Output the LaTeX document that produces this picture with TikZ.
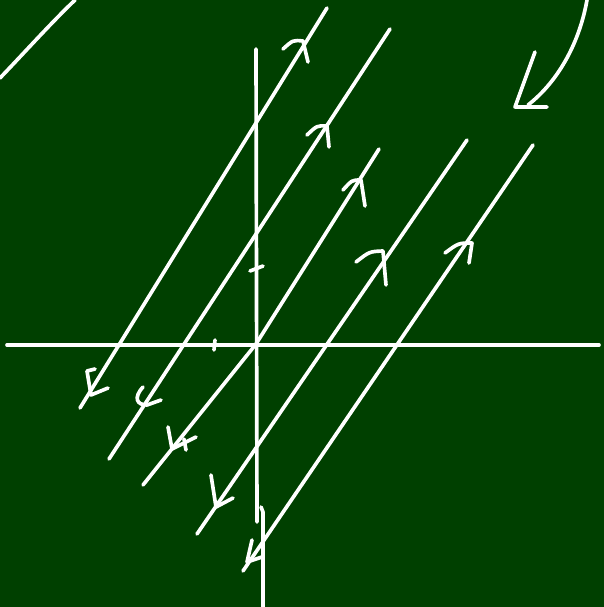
\documentclass[tikz,border=0pt]{standalone}
\usepackage{xcolor}
\usepackage{tikz}
\usetikzlibrary{calc}
\definecolor{bdgreen}{RGB}{0,64,0}
\definecolor{bdchalk}{RGB}{255,255,255}

\begin{document}
\begin{tikzpicture}[x=0.025cm, y=-0.025cm,
  chalk/.style={bdchalk, line width=2.6pt, line cap=round, line join=round}]

% ================= board =================
% one unit is one pixel of the 604x607 board, y runs downwards
\fill[bdgreen] (0,0) rectangle (604,607);
\useasboundingbox (0,0) rectangle (604,607);

% ================= axes =================
\draw[chalk] (7,345) -- (599,345);
\draw[chalk] (256,49) -- (257,522);
\draw[chalk] (261,507) -- (263,512) -- (263,607);
% small ticks near the origin
\draw[chalk] (250,271) -- (263,266);
\draw[chalk] (215,340) -- (214,350);

% ================= field lines =================
% drawn bottom-left to top-right; the third one was drawn in two strokes
\foreach \bx/\by/\tx/\ty in {80/408/327/8, 109/459/390/29,
                             197/534/467/140, 243/571/533/145}
  \draw[chalk] (\bx,\by) -- (\tx,\ty);
\draw[chalk] (143,485) -- (256,344) -- (379,149);

% arrow marks pointing up the lines
\foreach \lx/\ly/\ax/\ay/\rx/\ry in {283/49/303/41/308/62,
                                     307/135/327/126/329/147,
                                     343/190/361/180/365/206,
                                     356/262/383/251/386/285,
                                     445/253/472/243/469/263}
  \draw[chalk] (\lx,\ly) .. controls ($(\lx,\ly)!0.5!(\ax,\ay)+(0,-5)$) .. (\ax,\ay) -- (\rx,\ry);

% arrow marks pointing down the lines
\draw[chalk] (95,369) -- (87,371) -- (91,395) -- (108,388);
\draw[chalk] (143,387) .. controls (133,398) and (137,405) .. (147,405) -- (161,400);
\draw[chalk] (168,427) -- (172,449) -- (196,437);
\draw[chalk] (184,439) -- (186,450);
\draw[chalk] (211,475) -- (216,507) -- (233,498);
\draw[chalk] (252,540) -- (247,562) -- (262,557);

% ================= corner strokes =================
\draw[chalk] (0,78) .. controls (25,52) and (50,24) .. (75,0);
\draw[chalk] (587,0) .. controls (580,40) and (560,80) .. (528,105);
\draw[chalk] (535,52) -- (515,107) -- (547,107);
\end{tikzpicture}
\end{document}
